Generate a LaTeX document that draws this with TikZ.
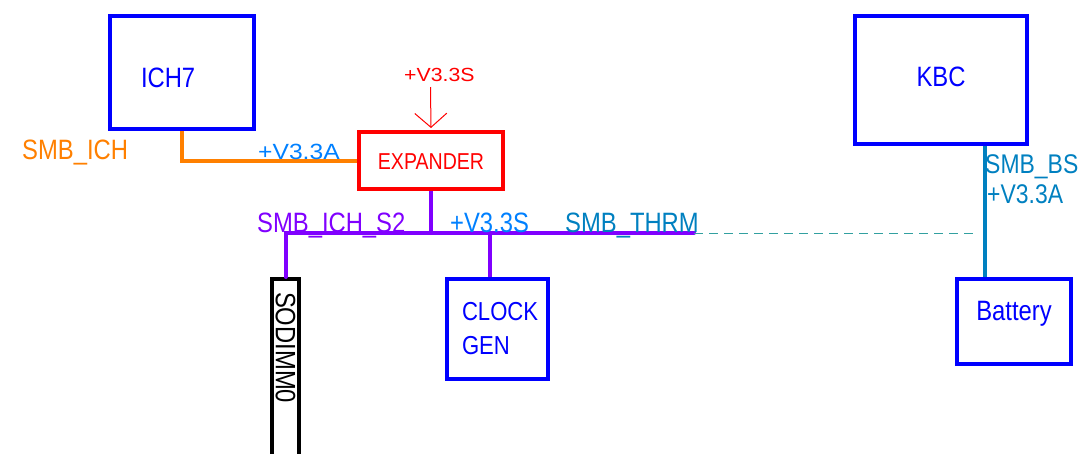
\documentclass[tikz,border=0pt]{standalone}
\usepackage{fontspec}
\setmainfont{Liberation Sans}[FakeStretch=0.85]
\newfontfamily\widefont{Liberation Sans}[FakeStretch=1.12]
\usetikzlibrary{arrows.meta}
\definecolor{boxblue}{RGB}{0,0,255}
\definecolor{boxred}{RGB}{255,0,0}
\definecolor{wireorange}{RGB}{255,128,0}
\definecolor{wirepurple}{RGB}{128,0,255}
\definecolor{pwrblue}{RGB}{0,128,255}
\definecolor{busteal}{RGB}{0,128,192}
\definecolor{dashteal}{RGB}{50,160,160}
\tikzset{
  chip/.style={draw=boxblue,line width=4pt,text=boxblue,inner sep=0pt},
  netlabel/.style={inner sep=0pt,anchor=base west},
  wire/.style={line width=4pt},
}
\begin{document}
\begin{tikzpicture}[x=1pt,y=-1pt,font=\fontsize{28}{34}\selectfont]
		\useasboundingbox (0,0) rectangle (1084,453);
		% blocks
		\node[chip,minimum width=144,minimum height=113,inner xsep=31,text width=82,align=left,text height=29pt,text depth=0pt] (ich) at (182,72.5) {ICH7};
		\node[chip,draw=boxred,text=boxred,minimum width=144,minimum height=57,font=\fontsize{23}{28}\selectfont,text height=17pt,text depth=0pt] (exp) at (431,160.5) {EXPANDER};
		\node[chip,draw=black,text=black,rotate=-90,minimum width=183,minimum height=27,inner xsep=13,text width=157,align=left] (dimm) at (285.5,370.5) {SODIMM0};
		\node[chip,minimum width=101,minimum height=100,inner xsep=15,text width=71,align=left,font=\fontsize{26}{34}\selectfont] (clock) at (497.5,329) {CLOCK\\GEN};
		\node[chip,minimum width=172,minimum height=128,text height=20pt,text depth=8pt] (kbc) at (941,80) {KBC};
		\node[chip,minimum width=114,minimum height=85,text height=20pt,text depth=23pt] (bat) at (1014,321.5) {Battery};
		% bus points
		\coordinate (busL) at (285.5,233);
		\coordinate (busR) at (694,233);
		\coordinate (bsx) at (985,0);
		\coordinate (vtop) at (430.5,87);
		% nets
		\draw[wire,wireorange] (ich.south) |- (exp.west);
		\draw[boxred,line width=1pt,-{Straight Barb[length=14pt,width=32pt]},shorten >=2pt] (vtop) -- (exp.north);
		\draw[wire,wirepurple] (exp.south) -- (exp.south |- busL);
		\draw[wire,wirepurple,line cap=round] (dimm.west) |- (busR);
		\draw[wire,wirepurple] ([xshift=-7.5pt]clock.north) -- ([xshift=-7.5pt]clock.north |- busL);
		\draw[dashteal,line width=1pt,dash pattern=on 9pt off 6pt,shorten >=7pt] (busR) -- (busR -| bsx);
		\draw[wire,busteal] (kbc.south -| bsx) -- (bat.north -| bsx);
		% net names
		\node[netlabel,text=wireorange] (lich) at (22,159) {SMB\_ICH};
		\node[netlabel,text=pwrblue,font=\widefont\fontsize{22}{26}\selectfont] (lva) at (258,159) {+V3.3A};
		\node[netlabel,text=boxred,font=\widefont\fontsize{19}{23}\selectfont] (lvs) at (404,81) {+V3.3S};
		\node[netlabel,text=wirepurple] (ls2) at (257,232) {SMB\_ICH\_S2};
		\node[netlabel,text=pwrblue] (lvb) at (450,232) {+V3.3S};
		\node[netlabel,text=busteal] (lthrm) at (565,232) {SMB\_THRM};
		\node[netlabel,text=busteal,font=\fontsize{27}{32}\selectfont] (lbs) at (985,173) {SMB\_BS};
		\node[netlabel,text=busteal,font=\fontsize{27}{32}\selectfont] (lvk) at (987,203) {+V3.3A};
\end{tikzpicture}
\end{document}
